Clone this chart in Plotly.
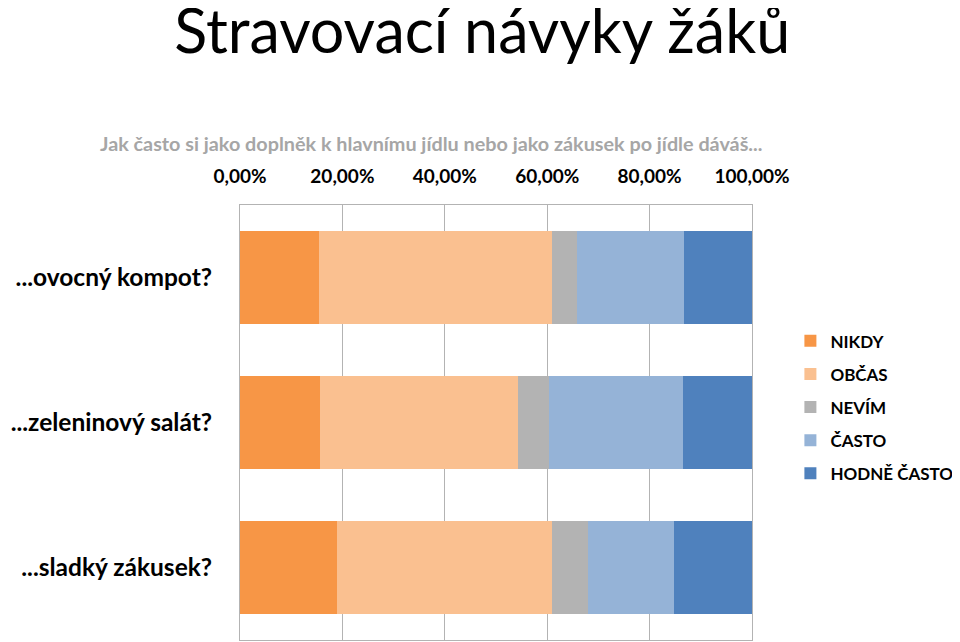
import plotly.graph_objects as go

otazky = ["...ovocný kompot?", "...zeleninový salát?", "...sladký zákusek?"]
odpovedi = ["NIKDY", "OBČAS", "NEVÍM", "ČASTO", "HODNĚ ČASTO"]

nikdy = [0.155, 0.156, 0.189]
obcas = [0.454, 0.387, 0.421]
nevim = [0.049, 0.061, 0.069]
casto = [0.210, 0.262, 0.169]
hodne_casto = [0.132, 0.134, 0.152]

barvy = ["#F79646", "#FAC090", "#B3B3B3", "#95B3D7", "#4F81BD"]

fig = go.Figure()
for name, vals, col in zip(odpovedi, [nikdy, obcas, nevim, casto, hodne_casto], barvy):
    fig.add_trace(go.Bar(y=otazky, x=vals, name=name, orientation="h",
                         legendgroup=name,
                         marker=dict(color=col, line_width=0)))

# the page puts the figure 8px in from the top left corner
fig.update_layout(
    barmode="stack",
    bargap=0.36,
    width=960, height=642,
    margin=dict(l=232, r=216, t=197, b=10, autoexpand=False),
    paper_bgcolor="white", plot_bgcolor="white",
    separators=",.",
    font=dict(family="Lato, Open Sans, sans-serif", color="black"),
    title=dict(text="Stravovací návyky žáků", x=0.494, xanchor="center",
               y=0.963, yanchor="middle", font=dict(size=61, color="black")),
    legend=dict(x=1.075, y=0.728, xanchor="left", yanchor="top",
                font=dict(size=17, color="black", weight="bold"),
                traceorder="grouped", tracegroupgap=8, itemwidth=30),
    showlegend=True,
)
fig.update_xaxes(side="top", range=[0, 1], dtick=0.2, tickformat=".2%",
                 showgrid=True, gridcolor="#B3B3B3", gridwidth=1,
                 showline=True, linecolor="#B3B3B3", mirror=True,
                 zeroline=False, ticks="", ticklabelstandoff=13,
                 tickfont=dict(size=19, color="black", weight="bold"))
fig.update_yaxes(autorange="reversed", showgrid=False,
                 showline=True, linecolor="#B3B3B3", mirror=True,
                 ticks="", ticklabelstandoff=22,
                 tickfont=dict(size=24.5, color="black", weight="bold"))

fig.add_annotation(text="Jak často si jako doplněk k hlavnímu jídlu nebo jako zákusek po jídle dáváš...",
                   xref="paper", yref="paper", x=0.373, y=1.1425,
                   xanchor="center", yanchor="middle", showarrow=False,
                   font=dict(size=19.8, color="#A6A6A6", weight="bold"))

fig.write_html("out.html")
